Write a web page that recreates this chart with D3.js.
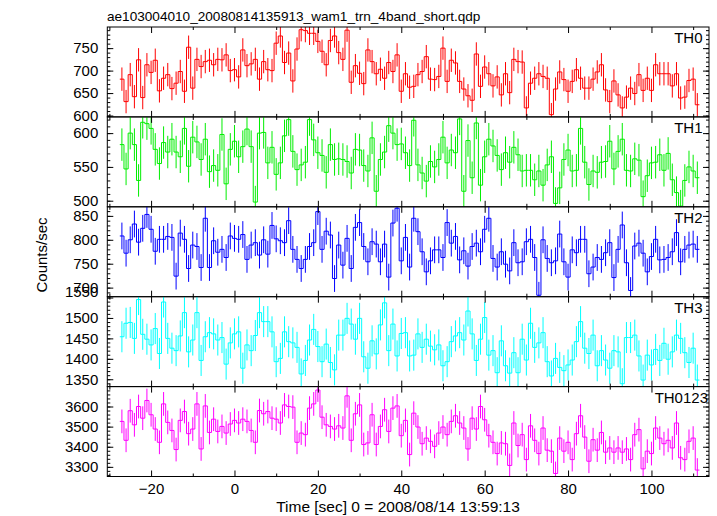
<!DOCTYPE html>
<html><head><meta charset="utf-8">
<script src="https://cdn.jsdelivr.net/npm/d3@7"></script>
<style>
body{margin:0;background:#fff}
svg{display:block}
text{font-family:"Liberation Sans",Arial,Helvetica,sans-serif;fill:#000}
</style>
</head><body>
<svg id="c" width="717" height="516"></svg>
<script>
// ---------------- data ----------------
const titleText = "ae103004010_20080814135913_wam1_trn_4band_short.qdp";
const xLabelText = "Time [sec] 0 = 2008/08/14 13:59:13";
const yLabelText = "Counts/sec";
const panelNames = ["TH0", "TH1", "TH2", "TH3", "TH0123"];
const binStart = -27.5;   // seconds, left edge of first bin
const binWidth = 1;       // seconds
const xTickLabels = [-20, 0, 20, 40, 60, 80, 100];

const th0 = [681,631,691,642,724,640,713,696,723,655,683,691,660,672,698,654,752,661,725,709,
  720,723,713,725,724,735,700,702,686,746,711,715,725,681,720,702,700,761,777,718,
  739,677,748,791,789,783,783,765,743,713,767,777,740,725,790,
  674,711,694,671,746,720,693,703,683,718,698,735,654,693,663,665,691,698,731,681,
  680,687,750,676,723,717,676,659,644,634,737,665,708,693,666,686,646,693,651,725,
  720,719,617,672,683,693,687,683,602,659,697,680,654,676,702,683,661,661,681,697,
  713,657,631,677,646,617,641,661,649,691,656,683,656,713,693,693,693,666,693,639,
  641,678,681,624];
const th1 = [583,547,600,583,530,616,614,607,576,555,586,572,591,572,565,607,551,594,587,561,
  591,543,552,545,598,525,576,588,565,580,606,580,498,600,601,556,579,539,556,596,
  620,573,546,553,557,620,590,571,567,542,583,561,562,
  561,558,541,576,575,552,544,593,514,561,572,611,600,583,584,571,552,619,553,541,
  529,558,550,561,594,556,575,571,621,514,589,534,615,523,565,591,581,567,546,571,
  557,579,568,544,545,545,531,544,523,553,565,496,519,561,575,544,545,607,557,524,
  544,542,557,558,588,547,573,591,545,544,562,560,506,537,556,557,568,545,570,531,
  512,492,530,550,544,534];
const th2 = [808,772,800,833,795,824,853,822,776,801,801,807,805,724,814,801,740,789,786,742,
  845,742,798,774,780,763,808,803,801,811,759,789,794,768,800,770,830,802,798,794,
  840,780,759,740,759,786,794,859,780,818,810,719,789,
  747,803,740,826,836,786,754,796,791,754,791,722,835,866,756,805,743,845,817,775,
  733,756,779,779,763,836,793,807,758,777,745,786,793,775,822,845,761,743,775,749,
  735,794,752,754,796,801,763,684,800,761,752,756,812,754,722,779,773,801,801,729,
  743,763,759,773,794,721,780,831,752,694,787,793,772,733,765,801,758,759,763,775,
  815,754,780,789,791,780];
const th3 = [1454,1487,1489,1450,1545,1460,1448,1434,1474,1413,1539,1450,1426,1420,1456,1513,1417,1446,1513,1396,
  1454,1464,1461,1446,1452,1387,1439,1461,1466,1377,1434,1420,1457,1513,1491,1491,1466,1393,1401,1466,
  1442,1439,1428,1363,1396,1446,1472,1430,1393,1436,1391,1373,1458,
  1458,1499,1485,1448,1499,1405,1377,1444,1412,1483,1537,1420,1485,1407,1462,1464,1407,1409,1461,1428,
  1448,1431,1422,1434,1383,1393,1442,1456,1464,1446,1517,1461,1396,1448,1501,1409,1420,1366,1444,1383,
  1365,1415,1366,1448,1397,1487,1428,1439,1464,1393,1358,1401,1379,1371,1385,1397,1442,1491,1426,1413,
  1458,1383,1420,1397,1377,1420,1417,1339,1452,1452,1458,1407,1348,1409,1385,1423,1396,1438,1399,1417,
  1458,1450,1415,1391,1426,1348];
const th0123 = [3526,3432,3579,3509,3600,3542,3630,3559,3488,3422,3613,3521,3481,3386,3531,3575,3465,3488,3613,3389,
  3603,3471,3537,3476,3501,3468,3513,3531,3518,3537,3526,3481,3422,3580,3564,3575,3542,3537,3518,3608,
  3600,3597,3422,3468,3460,3592,3613,3682,3547,3509,3501,3488,3504,
  3493,3653,3432,3564,3608,3411,3419,3559,3411,3501,3584,3476,3592,3603,3455,3531,3361,3567,3498,3415,
  3443,3427,3402,3468,3498,3460,3526,3554,3518,3493,3389,3542,3488,3600,3534,3455,3422,3366,3419,3415,
  3307,3518,3406,3460,3336,3504,3432,3366,3493,3383,3378,3267,3443,3378,3422,3336,3465,3554,3448,3328,
  3435,3383,3471,3373,3394,3373,3394,3373,3389,3336,3460,3485,3290,3378,3366,3493,3443,3415,3432,3394,
  3518,3345,3336,3427,3443,3284];
const series = [th0, th1, th2, th3, th0123];
const errors = [26, 24, 28, 38, 59];   // typical 1-sigma error per panel
const yDomains = [[597, 797], [491, 624], [681, 869], [1332, 1552], [3252, 3699]];
const yTickLabels = [[600, 650, 700, 750], [500, 550, 600], [700, 750, 800, 850],
  [1350, 1400, 1450, 1500, 1550], [3300, 3400, 3500, 3600]];
const yMinorStep = [10, 10, 10, 10, 20];
const colors = ["#ff0000", "#00ee00", "#0000ff", "#00ffff", "#ff00ff"];

// ---------------- layout ----------------
const svg = d3.select("#c");
const pLeft = 107.3, pRight = 709, pTop = 27, pBottom = 476.5;
const ph = (pBottom - pTop) / panelNames.length;
const x = d3.scaleLinear().domain([-30.5, 113.8]).range([pLeft, pRight]);
const fs = 15;

svg.append("text").attr("x", 107).attr("y", 20.5).attr("font-size", 13.6).text(titleText);

panelNames.forEach((name, k) => {
  const y0 = pTop + k * ph, y1 = y0 + ph;
  const y = d3.scaleLinear().domain(yDomains[k]).range([y1, y0]);
  const g = svg.append("g");
  const cid = "clip" + k;
  svg.append("clipPath").attr("id", cid).append("rect")
    .attr("x", pLeft).attr("y", y0).attr("width", pRight - pLeft).attr("height", ph);
  const vals = series[k];
  const pts = vals.map((v, i) => [binStart + i * binWidth, v]);
  pts.push([binStart + vals.length * binWidth, vals[vals.length - 1]]);
  const dg = g.append("g").attr("clip-path", `url(#${cid})`);
  dg.selectAll("line.err").data(vals).join("line").attr("class", "err")
    .attr("x1", (v, i) => x(binStart + (i + 0.5) * binWidth))
    .attr("x2", (v, i) => x(binStart + (i + 0.5) * binWidth))
    .attr("y1", v => y(v - errors[k])).attr("y2", v => y(v + errors[k]))
    .attr("stroke", colors[k]).attr("stroke-width", 1);
  dg.append("path").attr("d", d3.line().x(d => x(d[0])).y(d => y(d[1])).curve(d3.curveStepAfter)(pts))
    .attr("fill", "none").attr("stroke", colors[k]).attr("stroke-width", 1);

  const yMinor = d3.range(Math.ceil(yDomains[k][0] / yMinorStep[k]) * yMinorStep[k], yDomains[k][1] + 0.001, yMinorStep[k]);
  const fixAxis = sel => { sel.select(".domain").remove(); sel.attr("font-size", fs).attr("font-family", null); };
  const la = g.append("g").attr("transform", `translate(${pLeft},0)`)
    .call(d3.axisLeft(y).tickValues(yTickLabels[k]).tickSize(-6).tickPadding(9).tickFormat(d3.format("d"))).call(fixAxis);
  la.selectAll("text").attr("transform", d => (y(d) - y0 < 2 ? "translate(0,-6)" : null));
  g.append("g").attr("transform", `translate(${pLeft},0)`)
    .call(d3.axisLeft(y).tickValues(yMinor).tickSize(-3).tickFormat("")).call(fixAxis);
  g.append("g").attr("transform", `translate(${pRight},0)`)
    .call(d3.axisRight(y).tickValues(yTickLabels[k]).tickSize(-6).tickFormat("")).call(fixAxis);
  g.append("g").attr("transform", `translate(${pRight},0)`)
    .call(d3.axisRight(y).tickValues(yMinor).tickSize(-3).tickFormat("")).call(fixAxis);
  const xMajor = [-20, 0, 20, 40, 60, 80, 100];
  const xMinor = [-30, -10, 10, 30, 50, 70, 90, 110];
  g.append("g").attr("transform", `translate(0,${y0})`)
    .call(d3.axisTop(x).tickValues(xMajor).tickSize(-6).tickFormat("")).call(fixAxis);
  g.append("g").attr("transform", `translate(0,${y0})`)
    .call(d3.axisTop(x).tickValues(xMinor).tickSize(-3).tickFormat("")).call(fixAxis);
  const last = k === panelNames.length - 1;
  g.append("g").attr("transform", `translate(0,${y1})`)
    .call(d3.axisBottom(x).tickValues(last ? xTickLabels : xMajor).tickSize(-6).tickPadding(7)
      .tickFormat(last ? d3.format("d") : "")).call(fixAxis);
  g.append("g").attr("transform", `translate(0,${y1})`)
    .call(d3.axisBottom(x).tickValues(xMinor).tickSize(-3).tickFormat("")).call(fixAxis);

  g.append("rect").attr("x", pLeft).attr("y", y0).attr("width", pRight - pLeft).attr("height", ph)
    .attr("fill", "none").attr("stroke", "#000").attr("stroke-width", 1);
  g.append("text").attr("x", last ? 708 : 702.5).attr("y", y0 + 16).attr("text-anchor", "end")
    .attr("font-size", fs).text(name);
});

svg.append("text").attr("transform", "translate(46.5,255) rotate(-90)").attr("text-anchor", "middle")
  .attr("font-size", fs).text(yLabelText);
svg.append("text").attr("x", 398).attr("y", 511.5).attr("text-anchor", "middle")
  .attr("font-size", 15.5).text(xLabelText);
</script>
</body></html>
